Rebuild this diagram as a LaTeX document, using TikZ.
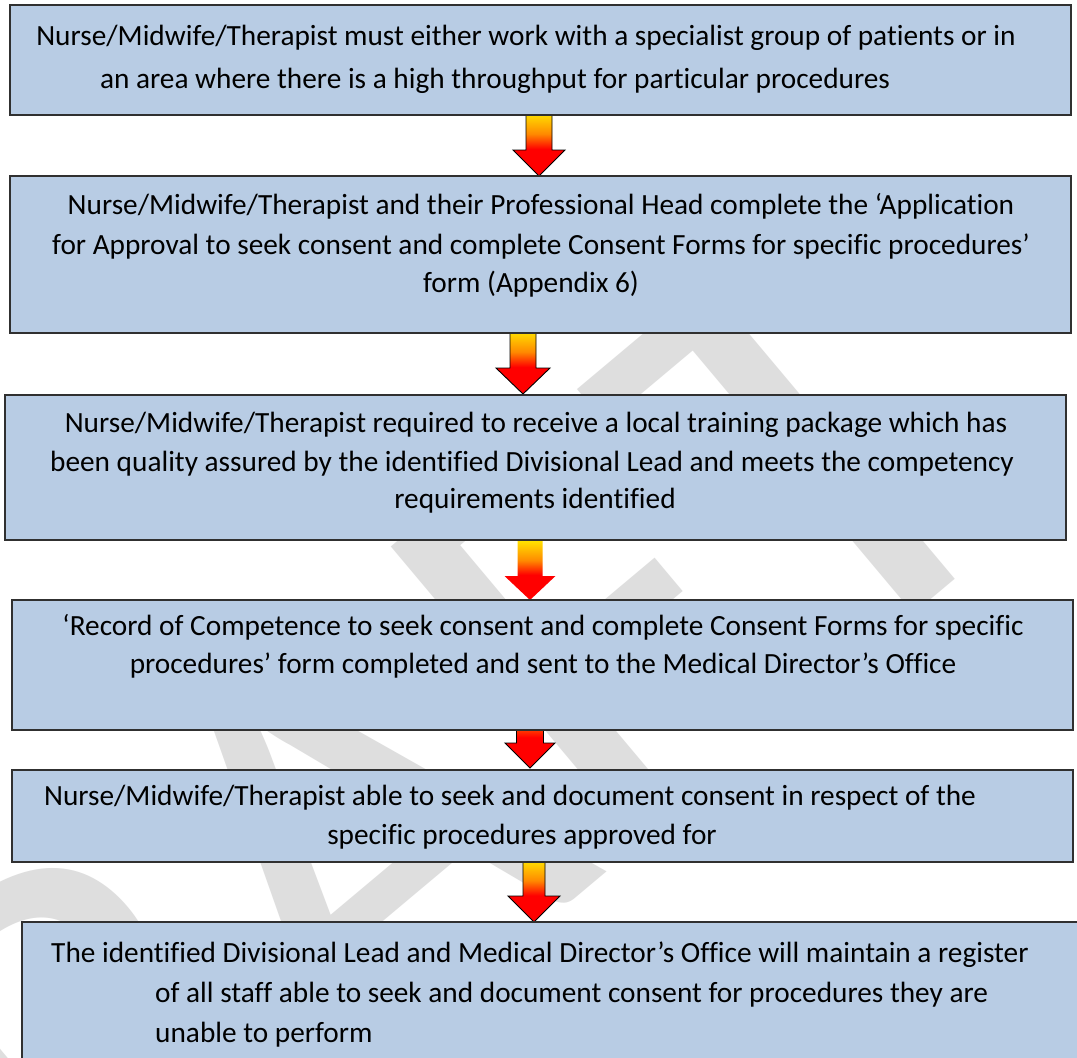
\documentclass[tikz,border=0pt]{standalone}
\usepackage{fontspec}
\setmainfont{Carlito}[Ligatures=NoCommon]
\newfontfamily\wmfont{Carlito}[Kerning=Off]
\usetikzlibrary{calc}
\definecolor{boxfill}{HTML}{B8CCE4}
\definecolor{boxline}{HTML}{303030}
\definecolor{wmark}{HTML}{DEDEDE}
\definecolor{ayellow}{HTML}{FFE600}
\definecolor{aorange}{HTML}{FF8A00}
\definecolor{ared}{HTML}{FF0000}
\pgfdeclareverticalshading{flowshade}{100bp}{color(0bp)=(ared); color(25bp)=(ared); color(46bp)=(ared); color(58bp)=(aorange); color(75bp)=(ayellow); color(100bp)=(ayellow)}
\newcommand\blockarrow[6]{% start, end, head length, half shaft, half head, style
  \path[#6] let \p1=(#1), \p2=(#2) in
    (\x1-#4pt,\y1) -- (\x1+#4pt,\y1) -- (\x1+#4pt,\y2+#3pt) -- (\x1+#5pt,\y2+#3pt)
    -- (\x2,\y2) -- (\x1-#5pt,\y2+#3pt) -- (\x1-#4pt,\y2+#3pt) -- cycle;}
\tikzset{
  box/.style={draw=boxline, line width=1.4pt, fill=boxfill, inner sep=0pt},
  txt/.style={anchor=base, inner sep=0pt, font=\fontsize{29.3}{35}\selectfont},
  arrowlined/.style={shading=flowshade, draw=black, line width=0.9pt, line join=miter},
  arrowplain/.style={shading=flowshade},
}
\begin{document}
\begin{tikzpicture}[x=1pt,y=1pt]
\clip (0,0) rectangle (1077,-1058);
\fill[white] (0,0) rectangle (1077,-1058);
% watermark
\node[text=wmark, rotate=40, anchor=base west, inner sep=0pt, font=\wmfont\fontsize{605}{605}\selectfont] (wm) at (-196,-1546) {DRAFT};
% arrow end points
\coordinate (a1s) at (539,-112); \coordinate (a1e) at (539,-176);
\coordinate (a2s) at (523,-330); \coordinate (a2e) at (523,-394);
\coordinate (a3s) at (530,-540); \coordinate (a3e) at (530,-600);
\coordinate (a4s) at (530,-695); \coordinate (a4e) at (530,-768);
\coordinate (a5s) at (534,-859); \coordinate (a5e) at (534,-922);
\blockarrow{a1s}{a1e}{26}{13}{26}{arrowlined}
\blockarrow{a2s}{a2e}{26}{13}{27}{arrowlined}
\blockarrow{a3s}{a3e}{24}{12.5}{25.5}{arrowplain}
\blockarrow{a4s}{a4e}{25}{13.5}{25}{arrowlined}
\blockarrow{a5s}{a5e}{26}{11}{26}{arrowlined}
% boxes
\node[box, minimum width=1061, minimum height=110] (b1) at (540.5,-60) {};
\node[box, minimum width=1061, minimum height=157] (b2) at (540.5,-254.5) {};
\node[box, minimum width=1061, minimum height=145] (b3) at (535.5,-467.5) {};
\node[box, minimum width=1061, minimum height=130] (b4) at (542.5,-665) {};
\node[box, minimum width=1061, minimum height=92] (b5) at (542.5,-816) {};
\node[box, minimum width=1080, minimum height=150] (b6) at (562,-997) {};
% texts
\node[txt] (t11) at (526,-45) {Nurse/Midwife/Therapist must either work with a specialist group of patients or in};
\node[txt] (t12) at (495,-88) {an area where there is a high throughput for particular procedures};
\node[txt] (t21) at (541,-214) {Nurse/Midwife/Therapist and their Professional Head complete the ‘Application};
\node[txt] (t22) at (541,-254) {for Approval to seek consent and complete Consent Forms for specific procedures’};
\node[txt] (t23) at (531,-292) {form (Appendix 6)};
\node[txt] (t31) at (536,-432) {Nurse/Midwife/Therapist required to receive a local training package which has};
\node[txt] (t32) at (532,-471) {been quality assured by the identified Divisional Lead and meets the competency};
\node[txt] (t33) at (535,-508) {requirements identified};
\node[txt] (t41) at (543,-635) {‘Record of Competence to seek consent and complete Consent Forms for specific};
\node[txt] (t42) at (543,-673) {procedures’ form completed and sent to the Medical Director’s Office};
\node[txt] (t51) at (510,-805) {Nurse/Midwife/Therapist able to seek and document consent in respect of the};
\node[txt] (t52) at (522,-844) {specific procedures approved for};
\node[txt] (t61) at (540,-962) {The identified Divisional Lead and Medical Director’s Office will maintain a register};
\node[txt, anchor=base west] (t62) at (155,-1002) {of all staff able to seek and document consent for procedures they are};
\node[txt, anchor=base west] (t63) at (155,-1042) {unable to perform};
\end{tikzpicture}
\end{document}
